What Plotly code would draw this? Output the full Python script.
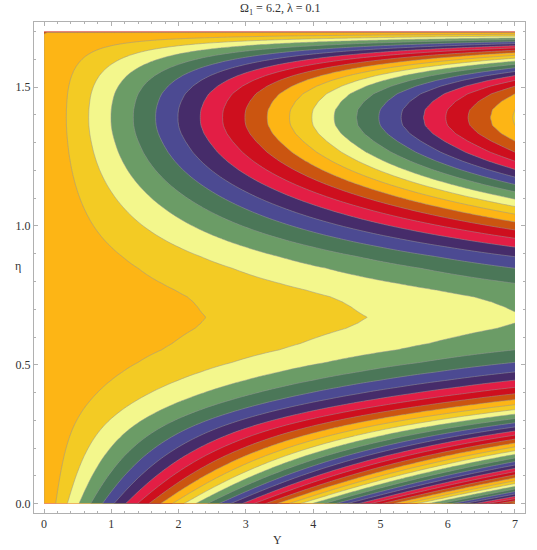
import numpy as np
import plotly.graph_objects as go

# Eta position of each contour where it meets the right edge (Y = 7),
# paired with the contour level found there.
eta = [0.0000, 0.0099, 0.0177, 0.0258, 0.0343, 0.0431, 0.0523, 0.0618, 0.0718, 0.0820,
       0.0927, 0.1037, 0.1150, 0.1268, 0.1388, 0.1513, 0.1641, 0.1771, 0.1904, 0.2041,
       0.2180, 0.2322, 0.2467, 0.2613, 0.2761, 0.2910, 0.3063, 0.3220, 0.3386, 0.3561,
       0.3749, 0.3956, 0.4187, 0.4446, 0.4742, 0.5088, 0.5539, 0.5770, 0.6311, 0.6502,
       0.6708, 0.6909, 0.7090, 0.7270, 0.7450, 0.7692, 0.7934, 0.8475, 0.8893, 0.9239,
       0.9556, 0.9856, 1.0144, 1.0425, 1.0700, 1.0966, 1.1230, 1.1493, 1.1760, 1.2037,
       1.2333, 1.2658, 1.3054, 1.3329, 1.3617, 1.3905, 1.4194, 1.4483, 1.4760, 1.5034,
       1.5243, 1.5416, 1.5564, 1.5698, 1.5820, 1.5936, 1.6044, 1.6145, 1.6239, 1.6329,
       1.6412, 1.6491, 1.6567, 1.6639, 1.6708, 1.6772, 1.6837, 1.6902, 1.6967, 1.7000]
level_at_Y7 = [40.4, 39, 38, 37, 36, 35, 34, 33, 32, 31,
               30, 29, 28, 27, 26, 25, 24, 23, 22, 21,
               20, 19, 18, 17, 16, 15, 14, 13, 12, 11,
               10, 9, 8, 7, 6, 5, 4, 3.67, 3.12, 3.0,
               2.917, 3.0, 3.07, 3.16, 3.29, 3.6, 4, 5, 6, 7,
               8, 9, 10, 11, 12, 13, 14, 15, 16, 17,
               18, 19, 20, 20.6, 21.0, 21.1, 21.0, 20.6, 20, 19,
               18, 17, 16, 15, 14, 13, 12, 11, 10, 9,
               8, 7, 6, 5, 4, 3, 2, 1, 0, -1]
Y_max = 7
band_colors = ["#FDB515", "#F3CB24", "#F3F78C", "#6B9C66", "#4B7758",
               "#4C4A92", "#462C6A", "#E31E45", "#CE0F1E", "#CB5510"]
x_tick_labels = ["0", "1", "2", "3", "4", "5", "6", "7"]
y_tick_values = [0.0, 0.5, 1.0, 1.5]
y_tick_labels = ["0.0", "0.5", "1.0", "1.5"]

Y = np.linspace(0, Y_max, 141)
slope = np.array(level_at_Y7) / Y_max
Z = np.outer(slope, Y)

start, end = -2, 42
nc = end - start + 1
cscale = [[0, band_colors[(start - 1) % 10]]]
for i in range(nc):
    cscale.append([(i + 1) / nc, band_colors[(start + i) % 10]])

FONT = "Liberation Serif"
TEXT = "#333333"
FRAME = "#b0b0b0"
fig = go.Figure(go.Contour(
    x=Y, y=eta, z=Z, colorscale=cscale, showscale=False, autocontour=False,
    contours=dict(start=start, end=end, size=1, coloring="fill"),
    line=dict(color="rgba(150,150,150,0.85)", width=0.6, smoothing=1),
    hoverinfo="skip"))

axis = dict(showgrid=False, zeroline=False, showline=True, linecolor=FRAME, linewidth=1,
            mirror="allticks", ticks="inside", ticklen=4, tickwidth=1, tickcolor=FRAME,
            tickfont=dict(family=FONT, size=12, color=TEXT))
fig.update_xaxes(axis, range=[-0.149, 7.149], tickmode="array",
                 tickvals=list(range(8)), ticktext=x_tick_labels,
                 minor=dict(ticks="inside", ticklen=2, tickwidth=1, tickcolor=FRAME,
                            tick0=0, dtick=0.2, showgrid=False))
fig.update_yaxes(axis, range=[-0.0339, 1.7346], tickmode="array",
                 tickvals=y_tick_values, ticktext=y_tick_labels,
                 minor=dict(ticks="inside", ticklen=2, tickwidth=1, tickcolor=FRAME,
                            tick0=0, dtick=0.1, showgrid=False))

L, R, T, B = 34.3, 12, 22.3, 37.3
fig.update_layout(
    width=537, height=550, autosize=False,
    margin=dict(l=L, r=R, t=T, b=B),
    paper_bgcolor="white", plot_bgcolor="white",
    font=dict(family=FONT, size=12, color=TEXT),
)
pw, ph = 537 - L - R, 550 - T - B


def label(text, px, py):
    fig.add_annotation(text=text, x=(px - L) / pw, y=(550 - B - py) / ph,
                       xref="paper", yref="paper", showarrow=False,
                       xanchor="center", yanchor="middle",
                       font=dict(family=FONT, size=12, color=TEXT))


label("Ω<sub>1</sub> = 6.2, λ = 0.1", 280, 9)
label("Y", 278, 540)
label("η", 18, 266)

fig.write_html("out.html", post_script="document.body.style.margin='0';",
               config={"displayModeBar": False})
